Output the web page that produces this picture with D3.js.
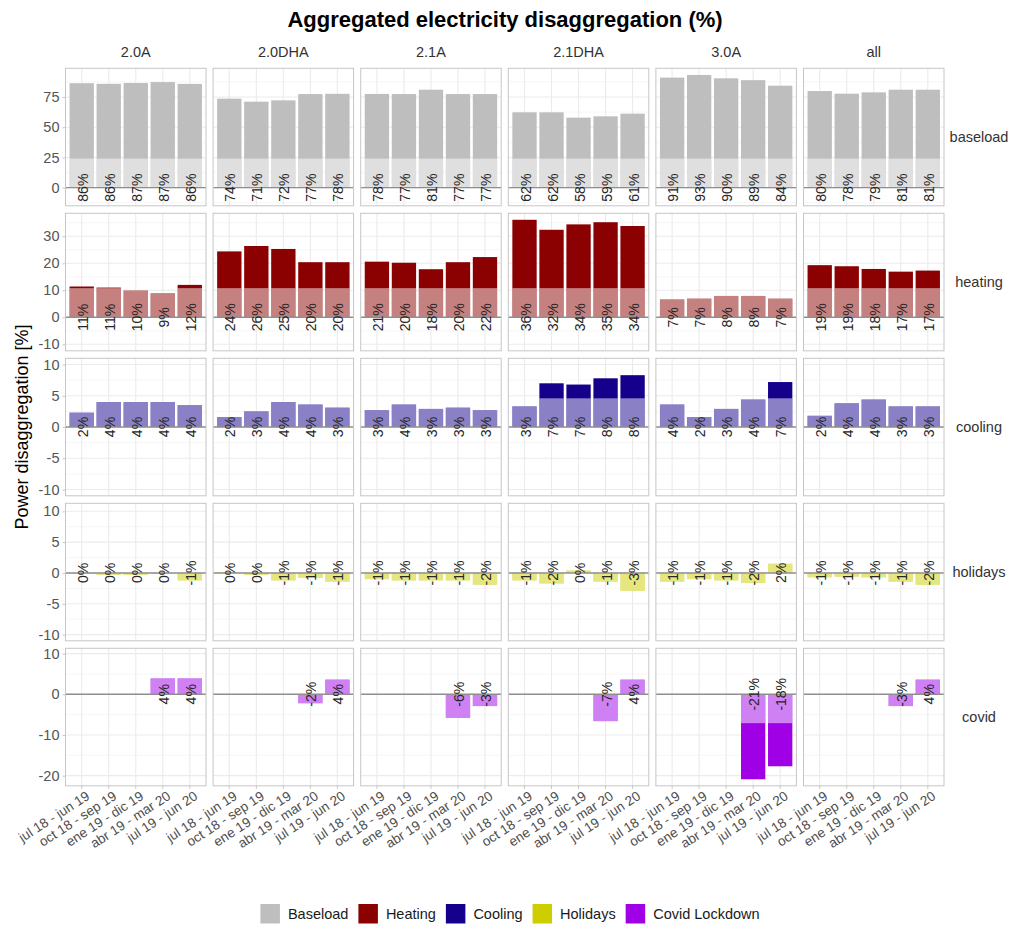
<!DOCTYPE html>
<html>
<head>
<meta charset="utf-8">
<script src="https://cdn.jsdelivr.net/npm/d3@7"></script>
<style>
  body { margin: 0; background: #fff; }
  svg { display: block; }
  text { font-family: "Liberation Sans", Arial, Helvetica, sans-serif; }
</style>
</head>
<body>
<svg id="chart" width="1011" height="928"></svg>
<script>
// ---- data ---------------------------------------------------------------
const tariffs = ["2.0A", "2.0DHA", "2.1A", "2.1DHA", "3.0A", "all"];
const periods = ["jul 18 - jun 19", "oct 18 - sep 19", "ene 19 - dic 19", "abr 19 - mar 20", "jul 19 - jun 20"];
const components = ["baseload", "heating", "cooling", "holidays", "covid"];
const legendLabels = ["Baseload", "Heating", "Cooling", "Holidays", "Covid Lockdown"];

// one row per tariff, one value per period (percent of consumption)
const baseload = [
  [86.4, 85.9, 86.6, 87.3, 85.8],
  [73.6, 71.1, 72.2, 77.4, 77.6],
  [77.5, 77.4, 81.0, 77.4, 77.4],
  [62.3, 62.3, 57.9, 59.0, 61.2],
  [91.0, 93.2, 90.4, 88.9, 84.3],
  [79.9, 77.7, 78.8, 81.0, 81.0]
];
const heating = [
  [11.4, 11.0, 9.9, 8.9, 12.0],
  [24.4, 26.4, 25.3, 20.4, 20.4],
  [20.6, 20.2, 17.8, 20.4, 22.3],
  [36.1, 32.4, 34.4, 35.2, 33.8],
  [6.6, 6.9, 7.9, 7.9, 6.9],
  [19.3, 18.9, 17.9, 16.9, 17.3]
];
const cooling = [
  [2.3, 4.0, 4.0, 4.0, 3.5],
  [1.6, 2.5, 4.0, 3.6, 3.1],
  [2.7, 3.6, 2.9, 3.1, 2.7],
  [3.3, 7.0, 6.8, 7.8, 8.3],
  [3.6, 1.6, 2.9, 4.4, 7.2],
  [1.8, 3.8, 4.4, 3.3, 3.3]
];
const holidays = [
  [-0.1, -0.3, -0.3, -0.1, -1.2],
  [0.1, -0.3, -1.2, -0.8, -1.4],
  [-1.0, -1.2, -1.2, -1.2, -1.9],
  [-1.2, -1.7, 0.4, -1.4, -2.9],
  [-1.4, -1.0, -1.2, -1.6, 1.5],
  [-0.7, -0.6, -0.7, -1.4, -1.9]
];
const covid = [
  [null, null, null, 3.9, 3.9],
  [null, null, null, -2.2, 3.6],
  [null, null, null, -5.8, -2.9],
  [null, null, null, -6.6, 3.6],
  [null, null, null, -20.9, -17.7],
  [null, null, null, -2.9, 3.6]
];

// share of each bar that is drawn in the pale tone (|value| up to this limit)
const paleLimit = [24, 10.8, 4.6, 4, 7.1];

// y axis per component row
const yDomains = [[-15, 98.7], [-12.4, 38.5], [-11, 11], [-11, 11.3], [-22.5, 11.3]];
const yTicks = [[0, 25, 50, 75], [-10, 0, 10, 20, 30], [-10, -5, 0, 5, 10], [-10, -5, 0, 5, 10], [-20, -10, 0, 10]];

// ---- drawing ------------------------------------------------------------
const series = [baseload, heating, cooling, holidays, covid];
const colors = ["#bebebe", "#8b0000", "#15008b", "#cdcd00", "#9f00e6"];

const svg = d3.select("#chart");
const L = { left: 65.5, top: 68.3, pw: 140.5, ph: 137.5, colStep: 147.6, rowStep: 145 };

svg.append("rect").attr("width", 1011).attr("height", 928).attr("fill", "#fff");

const x = d3.scaleBand().domain(periods).range([0, L.pw]).paddingInner(0.1).paddingOuter(0.15);
const fmt = v => `${Math.round(v) + 0}%`;

components.forEach((comp, r) => {
  const y = d3.scaleLinear().domain(yDomains[r]).range([L.ph, 0]);
  const majors = yTicks[r];
  const step = majors[1] - majors[0];
  const minors = [];
  for (let v = majors[0] - step * 1.5; v <= yDomains[r][1]; v += step) {
    if (v >= yDomains[r][0]) minors.push(v);
  }
  const lim = paleLimit[r];

  tariffs.forEach((t, c) => {
    const px = L.left + c * L.colStep;
    const py = L.top + r * L.rowStep;
    const g = svg.append("g").attr("transform", `translate(${px},${py})`);

    g.append("rect").attr("width", L.pw).attr("height", L.ph).attr("fill", "#fff");

    // grid
    g.selectAll(".minor").data(minors).join("line")
      .attr("x1", 0).attr("x2", L.pw)
      .attr("y1", d => y(d)).attr("y2", d => y(d))
      .attr("stroke", "#f4f4f4").attr("stroke-width", 0.8);
    g.selectAll(".major").data(majors).join("line")
      .attr("x1", 0).attr("x2", L.pw)
      .attr("y1", d => y(d)).attr("y2", d => y(d))
      .attr("stroke", "#ebebeb").attr("stroke-width", 1.1);
    g.selectAll(".vgrid").data(periods).join("line")
      .attr("x1", d => x(d) + x.bandwidth() / 2).attr("x2", d => x(d) + x.bandwidth() / 2)
      .attr("y1", 0).attr("y2", L.ph)
      .attr("stroke", "#ebebeb").attr("stroke-width", 1.1);

    const rows = periods.map((p, i) => ({ p, v: series[r][c][i] })).filter(d => d.v !== null);

    // full bar in the strong colour
    g.selectAll(".bar").data(rows).join("rect")
      .attr("x", d => x(d.p))
      .attr("width", x.bandwidth())
      .attr("y", d => y(Math.max(0, d.v)))
      .attr("height", d => Math.abs(y(d.v) - y(0)))
      .attr("fill", colors[r]);

    // pale part near zero
    g.selectAll(".pale").data(rows).join("rect")
      .attr("x", d => x(d.p))
      .attr("width", x.bandwidth())
      .attr("y", d => y(Math.max(0, Math.min(d.v, lim))))
      .attr("height", d => Math.abs(y(Math.max(-lim, Math.min(d.v, lim))) - y(0)))
      .attr("fill", "#fff").attr("fill-opacity", 0.5);

    // zero line
    g.append("line")
      .attr("x1", 0).attr("x2", L.pw).attr("y1", y(0)).attr("y2", y(0))
      .attr("stroke", "#8f8f8f").attr("stroke-width", 1.4);

    // value labels, rotated and centred on zero
    g.selectAll(".lbl").data(rows).join("text")
      .attr("transform", d => `translate(${x(d.p) + x.bandwidth() / 2 + 1},${y(0)}) rotate(-90)`)
      .attr("text-anchor", "middle")
      .attr("dominant-baseline", "central")
      .attr("font-size", 14)
      .attr("fill", "#262626")
      .text(d => fmt(d.v));

    // panel border
    g.append("rect").attr("width", L.pw).attr("height", L.ph)
      .attr("fill", "none").attr("stroke", "#c6c6c6").attr("stroke-width", 1);

    // y axis on the first column
    if (c === 0) {
      const ax = g.append("g").call(d3.axisLeft(y).tickValues(majors).tickSize(3).tickPadding(3).tickFormat(d => String(d)));
      ax.select(".domain").remove();
      ax.selectAll("line").attr("stroke", "#c6c6c6");
      ax.selectAll("text").attr("font-size", 14.5).attr("fill", "#555").attr("font-family", "Liberation Sans, Arial, sans-serif");
    }

    // x axis on the bottom row
    if (r === components.length - 1) {
      const ax = g.append("g").attr("transform", `translate(0,${L.ph})`)
        .call(d3.axisBottom(x).tickSize(3).tickSizeOuter(0));
      ax.select(".domain").remove();
      ax.selectAll("line").attr("stroke", "#c6c6c6");
      ax.selectAll("text")
        .attr("font-size", 13.5).attr("fill", "#4d4d4d")
        .attr("font-family", "Liberation Sans, Arial, sans-serif")
        .attr("text-anchor", "end")
        .attr("transform", "translate(2,2) rotate(-33)")
        .attr("y", 3).attr("dy", "0.71em").attr("x", 0);
    }

    // column strip
    if (r === 0) {
      svg.append("text")
        .attr("x", px + L.pw / 2).attr("y", py - 11)
        .attr("text-anchor", "middle")
        .attr("font-size", 14.5).attr("fill", "#333")
        .text(t);
    }
  });

  // row strip
  svg.append("text")
    .attr("x", 979).attr("y", L.top + r * L.rowStep + L.ph / 2)
    .attr("text-anchor", "middle").attr("dominant-baseline", "central")
    .attr("font-size", 14.5).attr("fill", "#333")
    .text(comp);
});

// title
svg.append("text")
  .attr("x", 505).attr("y", 27)
  .attr("text-anchor", "middle")
  .attr("font-size", 22).attr("font-weight", "bold").attr("fill", "#000")
  .text("Aggregated electricity disaggregation (%)");

// y title
const plotMidY = L.top + (L.rowStep * 4 + L.ph) / 2;
svg.append("text")
  .attr("transform", `translate(28,${plotMidY}) rotate(-90)`)
  .attr("text-anchor", "middle")
  .attr("font-size", 18).attr("fill", "#000")
  .text("Power disaggregation [%]");

// legend
const legend = svg.append("g");
const keySize = 19.5, keyGap = 8, itemGap = 10;
let lx = 0;
legendLabels.forEach((lab, i) => {
  const it = legend.append("g").attr("transform", `translate(${lx},0)`);
  it.append("rect").attr("width", keySize).attr("height", keySize).attr("fill", colors[i]);
  const tx = it.append("text")
    .attr("x", keySize + keyGap).attr("y", keySize / 2)
    .attr("dominant-baseline", "central")
    .attr("font-size", 14.5).attr("fill", "#1a1a1a")
    .text(lab);
  lx += keySize + keyGap + tx.node().getComputedTextLength() + itemGap;
});
const legendW = lx - itemGap;
legend.attr("transform", `translate(${510 - legendW / 2},${904})`);
</script>
</body>
</html>
